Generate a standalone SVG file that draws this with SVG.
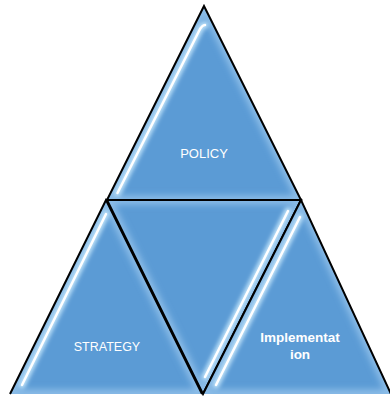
<svg xmlns="http://www.w3.org/2000/svg" width="390" height="396" viewBox="0 0 390 396">
<defs>
<style>
.tri{fill:#5B9BD5;}
.edge{fill:none;stroke:#8CBDE8;stroke-width:9;filter:url(#blur3);}
.out{fill:none;stroke:#000;stroke-width:2;stroke-linejoin:miter;}
.hlGlow{fill:none;stroke:#BFE3FA;stroke-width:7;stroke-linecap:round;filter:url(#blur2);}
.hl{fill:none;stroke:#FFFFFF;stroke-width:2.5;stroke-linecap:round;filter:url(#blur05);}
.lbl{font-family:"Liberation Sans",Arial,sans-serif;fill:#FFFFFF;text-anchor:middle;}
</style>
<filter id="blur2" x="-20%" y="-20%" width="140%" height="140%"><feGaussianBlur stdDeviation="2"/></filter>
<filter id="blur3" x="-20%" y="-20%" width="140%" height="140%"><feGaussianBlur stdDeviation="3"/></filter>
<filter id="blur05" x="-20%" y="-20%" width="140%" height="140%"><feGaussianBlur stdDeviation="0.6"/></filter>
<clipPath id="cTop"><polygon points="204,6 107,200 301,200"/></clipPath>
<clipPath id="cLeft"><polygon points="106,200 10,394 202,394"/></clipPath>
<clipPath id="cMid"><polygon points="107,200 301,200 203,394"/></clipPath>
<clipPath id="cRight"><polygon points="301,200 203,394 391,394"/></clipPath>
</defs>

<g id="mid">
<polygon class="tri" points="107,200 301,200 203,394"/>
<g clip-path="url(#cMid)">
<polygon class="edge" points="107,200 301,200 203,394"/>
<line class="hlGlow" x1="288" y1="211" x2="205" y2="377"/>
<line class="hl" x1="288" y1="211" x2="205" y2="377"/>
</g>
<polygon class="out" points="107,200 301,200 203,394"/>
</g>

<g id="policy">
<polygon class="tri" points="204,6 107,200 301,200"/>
<g clip-path="url(#cTop)">
<polygon class="edge" points="204,6 107,200 301,200"/>
<path class="hlGlow" d="M117.5,193 L199,31 Q202,25 205,25"/>
<path class="hl" d="M117.5,193 L199,31 Q202,25 205,25"/>
</g>
<polygon class="out" points="204,6 107,200 301,200"/>
<text class="lbl" x="204" y="158" font-size="13">POLICY</text>
</g>

<g id="strategy">
<polygon class="tri" points="106,200 10,394 202,394"/>
<g clip-path="url(#cLeft)">
<polygon class="edge" points="106,200 10,394 202,394"/>
<line class="hlGlow" x1="106" y1="214" x2="22" y2="385"/>
<line class="hl" x1="106" y1="214" x2="22" y2="385"/>
</g>
<polyline class="out" points="10,394 106,200 202,394"/>
<text class="lbl" x="107" y="351" font-size="12.5">STRATEGY</text>
</g>

<g id="implementation">
<polygon class="tri" points="301,200 203,394 391,394"/>
<g clip-path="url(#cRight)">
<polygon class="edge" points="301,200 203,394 391,394"/>
<line class="hlGlow" x1="300" y1="217" x2="216" y2="385"/>
<line class="hl" x1="300" y1="217" x2="216" y2="385"/>
</g>
<polyline class="out" points="203,394 301,200 391,394"/>
<text class="lbl" x="300" y="342" font-size="13.5" font-weight="bold">Implementat</text>
<text class="lbl" x="300" y="359" font-size="13.5" font-weight="bold">ion</text>
</g>
</svg>
